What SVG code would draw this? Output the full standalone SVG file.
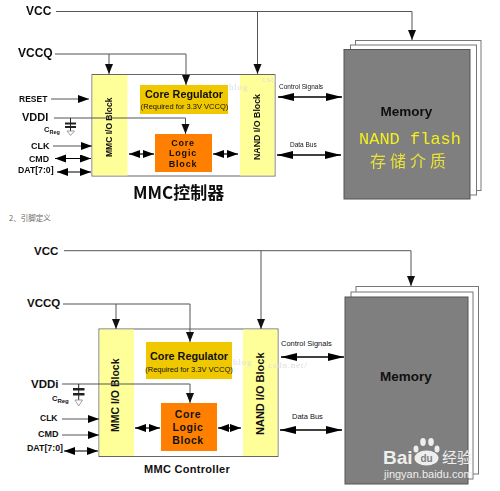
<svg xmlns="http://www.w3.org/2000/svg" width="500" height="491" viewBox="0 0 500 491">
<defs>
<style>
text{font-family:"Liberation Sans",Arial,"Noto Sans CJK SC",sans-serif;fill:#111}
.b{font-weight:bold}
.box{fill:#fff;stroke:#666;stroke-width:1}
.y{fill:#ffff99}
.reg{fill:#f0c800}
.org{fill:#ff8000}
.mem{fill:#7f7f7f;stroke:#555;stroke-width:1}
.w{fill:#fff;stroke:#777;stroke-width:1}
.l{fill:none;stroke:#555;stroke-width:1}
.t{fill:none;stroke:#000;stroke-width:1.2}
.d{fill:none;stroke:#000;stroke-width:1.6}
.cn{font-family:"Noto Sans CJK SC","Liberation Sans",sans-serif}
.wm{font-family:"Liberation Serif",serif;fill:#ddd;font-size:9px;letter-spacing:.8px}
.cap{fill:none;stroke:#222;stroke-width:1}
.plate{fill:#222}
.gnd{fill:#fff;stroke:#888;stroke-width:.8}
.wt{fill:#eee}
</style>
<marker id="a" markerUnits="userSpaceOnUse" markerWidth="13" markerHeight="10" refX="11" refY="4" orient="auto-start-reverse"><path d="M0 0L11 4L0 8z" fill="#000"/></marker>
<marker id="v" markerUnits="userSpaceOnUse" markerWidth="12" markerHeight="12" refX="10" refY="4" orient="auto"><path d="M0 0L10 4L0 8z" fill="#111"/></marker>
<marker id="h" markerUnits="userSpaceOnUse" markerWidth="18" markerHeight="10" refX="16" refY="4" orient="auto-start-reverse"><path d="M0 0L16 4L0 8z" fill="#000"/></marker>
<filter id="soft" x="-2%" y="-2%" width="104%" height="104%"><feGaussianBlur stdDeviation="0.45"/></filter>
</defs>
<rect width="500" height="491" fill="#fff"/>

<g id="top-diagram" filter="url(#soft)">
<g id="t-controller"><rect class="box" x="92" y="74.500" width="183" height="101.500"/></g>
<g id="t-mmc-io"><rect class="y" x="92.500" y="75" width="35" height="100.500"/><text class="b" font-size="8.500" transform="translate(112,157) rotate(-90)">MMC I/O Block</text></g>
<g id="t-nand-io"><rect class="y" x="240" y="75" width="34.500" height="100.500"/><text class="b" font-size="8.800" transform="translate(260,160) rotate(-90)">NAND I/O Block</text></g>
<g id="t-regulator"><rect class="reg" x="140" y="85" width="88" height="29"/><text class="b" x="184" y="98" font-size="10.800" text-anchor="middle">Core Regulator</text><text x="184.500" y="109" font-size="7.500" text-anchor="middle">(Required for 3.3V VCCQ)</text></g>
<g id="t-logic"><rect class="org" x="155" y="134" width="57" height="38"/><text class="b" text-anchor="middle" font-size="9" letter-spacing=".8"><tspan x="183" y="146">Core</tspan><tspan x="183" y="156">Logic</tspan><tspan x="183" y="167">Block</tspan></text></g>
<g id="t-memory"><rect class="w" x="355.500" y="40.500" width="125.500" height="150"/><rect class="w" x="350.500" y="45" width="126" height="150"/><rect class="mem" x="344" y="49.500" width="126" height="149.500"/><text class="b" x="406.500" y="116" font-size="13.500" text-anchor="middle">Memory</text><text x="410" y="143.500" font-size="17" text-anchor="middle" style="fill:#f4f01e;font-family:'Liberation Mono',monospace">NAND flash</text><text class="cn" x="410" y="167" font-size="16" text-anchor="middle" style="fill:#e8e23a;letter-spacing:4px">存储介质</text></g>
<g id="t-labels">
<text class="b" x="26" y="14.500" font-size="12">VCC</text><text class="b" x="18" y="57" font-size="12">VCCQ</text>
<text class="b" x="19" y="102" font-size="8.500">RESET</text><text class="b" x="22" y="121" font-size="11">VDDI</text>
<text class="b" x="44" y="132" font-size="7.500">C<tspan font-size="5.500" dy="1.500">Reg</tspan></text>
<text class="b" x="31" y="148.500" font-size="9">CLK</text><text class="b" x="29" y="161.500" font-size="8.800">CMD</text><text class="b" x="18" y="172.500" font-size="8.700">DAT[7:0]</text>
<text x="279" y="88.500" font-size="6.500">Control Signals</text><text x="290" y="147" font-size="6.500">Data Bus</text>
<text class="cn b" x="133" y="199" font-size="17">MMC控制器</text>
<text class="wm" x="229" y="90">blog</text><text class="wm" x="262" y="82">csd</text>
</g>
<g id="t-connectors">
<path class="l" d="M56 11.500H412V40" marker-end="url(#v)"/><path class="l" d="M257.500 11.500V74" marker-end="url(#v)"/>
<path class="l" d="M55 54H186V85" marker-end="url(#v)"/><path class="l" d="M109 54V74" marker-end="url(#v)"/>
<path class="l" d="M54 118H185.500V134" marker-end="url(#v)"/>
<path class="l" d="M51 99H89" marker-end="url(#a)"/><path class="l" d="M53 146H92" marker-end="url(#a)"/>
<path class="t" d="M55 158.500H91" marker-start="url(#a)" marker-end="url(#a)"/><path class="t" d="M57 172H91" marker-start="url(#a)" marker-end="url(#a)"/>
<path class="t" d="M129 154H154" marker-start="url(#a)" marker-end="url(#a)"/><path class="t" d="M213 154H238" marker-start="url(#a)" marker-end="url(#a)"/>
<path class="d" d="M278 97H342" marker-start="url(#h)" marker-end="url(#h)"/><path class="d" d="M277 155H341" marker-start="url(#h)" marker-end="url(#h)"/>
<path class="cap" d="M70.500 118V131"/><rect class="plate" x="65" y="122.500" width="11" height="2"/><rect class="plate" x="65" y="126" width="11" height="2"/><path class="gnd" d="M67 131H74.500L70.500 135.500z"/>
</g>
</g>

<g id="caption"><text class="cn" x="9" y="221" font-size="7.500" style="fill:#666">2、引脚定义</text></g>

<g id="b-controller"><rect class="box" x="99" y="329" width="179" height="127.500"/></g>
<g id="b-mmc-io"><rect class="y" x="99.500" y="329.500" width="34.500" height="126.500"/><text class="b" font-size="10.500" transform="translate(119,432) rotate(-90)">MMC I/O Block</text></g>
<g id="b-nand-io"><rect class="y" x="243" y="329.500" width="34.500" height="126.500"/><text class="b" font-size="11" transform="translate(264,435) rotate(-90)">NAND I/O Block</text></g>
<g id="b-regulator"><rect class="reg" x="146" y="342" width="86" height="37"/><text class="b" x="189" y="360" font-size="10.800" text-anchor="middle">Core Regulator</text><text x="189" y="371.500" font-size="7.500" text-anchor="middle">(Required for 3.3V VCCQ)</text></g>
<g id="b-logic"><rect class="org" x="161" y="403" width="56" height="48"/><text class="b" text-anchor="middle" font-size="10.500" letter-spacing=".6"><tspan x="188" y="418">Core</tspan><tspan x="188" y="431">Logic</tspan><tspan x="188" y="444">Block</tspan></text></g>
<g id="b-memory"><rect class="w" x="356" y="286.500" width="122.500" height="187.500"/><rect class="w" x="351" y="292" width="122" height="187"/><rect class="mem" x="345" y="297" width="123" height="187"/><text class="b" x="406" y="381" font-size="13.500" text-anchor="middle">Memory</text></g>
<g id="b-labels">
<text class="b" x="34" y="254.500" font-size="11.500">VCC</text><text class="b" x="27" y="306.500" font-size="11.500">VCCQ</text>
<text class="b" x="31" y="387.500" font-size="11.500">VDDi</text>
<text class="b" x="52" y="401" font-size="7.500">C<tspan font-size="6" dy="1.500">Reg</tspan></text>
<text class="b" x="40" y="421" font-size="8.500">CLK</text><text class="b" x="38" y="437" font-size="9">CMD</text><text class="b" x="27" y="451" font-size="8.800">DAT[7:0]</text>
<text x="281" y="346" font-size="7.500">Control Signals</text><text x="292" y="419" font-size="7.500">Data Bus</text>
<text class="b" x="144" y="473" font-size="11" letter-spacing=".3">MMC Controller</text>
<text class="wm" x="233" y="365">blog</text><text class="wm" x="268" y="368">csdn.net/</text>
</g>
<g id="b-connectors">
<path class="l" d="M64 250.700H411V286" marker-end="url(#v)"/><path class="l" d="M261 250.700V329" marker-end="url(#v)"/>
<path class="l" d="M63 304H190V342" marker-end="url(#v)"/><path class="l" d="M116 304V329" marker-end="url(#v)"/>
<path class="l" d="M62 384H190V403" marker-end="url(#v)"/>
<path class="l" d="M62 419H99" marker-end="url(#a)"/><path class="l" d="M62 435H99" marker-end="url(#a)"/>
<path class="t" d="M64 451H98" marker-start="url(#a)" marker-end="url(#a)"/>
<path class="t" d="M135 428H160" marker-start="url(#a)" marker-end="url(#a)"/><path class="t" d="M218 428H241" marker-start="url(#a)" marker-end="url(#a)"/>
<path class="d" d="M281 357H344" marker-start="url(#h)" marker-end="url(#h)"/><path class="d" d="M280 430H342" marker-start="url(#h)" marker-end="url(#h)"/>
<path class="cap" d="M78.700 384V400"/><rect class="plate" x="73" y="388" width="11.500" height="2.500"/><rect class="plate" x="73" y="393" width="11.500" height="2.500"/><path class="gnd" d="M75 400H82.500L78.700 406z"/>
</g>
<g id="watermark">
<text class="wt" x="383" y="464" font-size="19" font-weight="bold">Bai</text>
<g class="wt"><ellipse cx="416" cy="449" rx="2.500" ry="3.500"/><ellipse cx="423" cy="442" rx="2.800" ry="4"/><ellipse cx="431" cy="442" rx="2.800" ry="4"/><ellipse cx="437" cy="449" rx="2.500" ry="3.500"/><ellipse cx="426.500" cy="458" rx="12" ry="7.500"/></g>
<text x="426.500" y="462" font-size="10" font-weight="bold" text-anchor="middle" style="fill:#7f7f7f">du</text>
<text class="cn wt" x="442" y="463" font-size="15">经验</text>
<text class="wt" x="384" y="477.500" font-size="11">jingyan.baidu.com</text>
</g>
</svg>
